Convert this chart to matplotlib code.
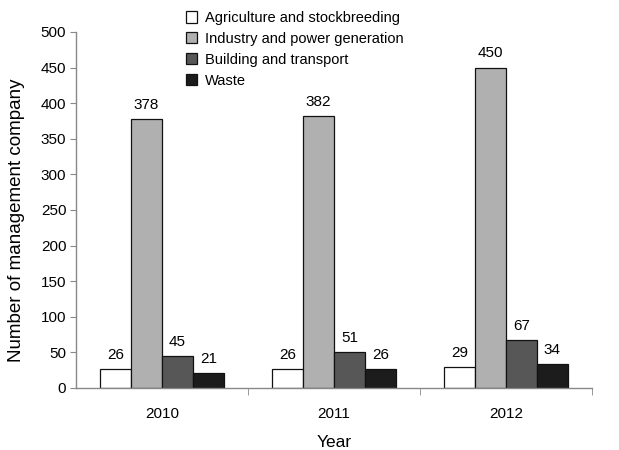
import matplotlib
matplotlib.use("Agg")
import matplotlib.pyplot as plt
import numpy as np

plt.rcParams['font.family'] = ['Liberation Sans', 'DejaVu Sans']

years = ["2010", "2011", "2012"]
series_names = [
    "Agriculture and stockbreeding",
    "Industry and power generation",
    "Building and transport",
    "Waste",
]
agriculture = [26, 26, 29]
industry = [378, 382, 450]
building = [45, 51, 67]
waste = [21, 26, 34]
colors = ["#ffffff", "#b0b0b0", "#575757", "#1c1c1c"]

fig = plt.figure(figsize=(6.19, 4.5), dpi=100)
ax = fig.add_axes([0.1228, 0.1378, 0.8335, 0.7912])

x = np.arange(len(years))
width = 0.18
all_series = [agriculture, industry, building, waste]
for i, (vals, name, c) in enumerate(zip(all_series, series_names, colors)):
    pos = x + (i - 1.5) * width
    bars = ax.bar(pos, vals, width, color=c, edgecolor="#111111", linewidth=0.9, label=name)
    for b, v in zip(bars, vals):
        ax.text(b.get_x() + b.get_width() / 2, v + 10, str(v), ha="center", va="bottom", fontsize=11)

ax.set_xlim(-0.5, 2.5)
ax.set_ylim(0, 500)
ax.set_yticks(np.arange(0, 501, 50))
ax.set_xticks(x)
ax.set_xticklabels(years, fontsize=11)
ax.set_xticks([0.5, 1.5, 2.5], minor=True)
ax.tick_params(axis="x", which="major", length=0, pad=14)
ax.tick_params(axis="x", which="minor", length=5, color="#888888", direction="out")
ax.tick_params(axis="y", labelsize=11, length=4, color="#888888", pad=3)
for s in ["top", "right"]:
    ax.spines[s].set_visible(False)
for s in ["left", "bottom"]:
    ax.spines[s].set_color("#888888")
    ax.spines[s].set_linewidth(1.0)

ax.set_ylabel("Number of management company", fontsize=13.5, va="center")
ax.yaxis.set_label_coords(-0.116, 0.472)
ax.set_xlabel("Year", fontsize=12.5, va="center")
ax.xaxis.set_label_coords(0.5, -0.152)

leg = ax.legend(loc="upper left", bbox_to_anchor=(0.201, 1.075), frameon=False, fontsize=10.5,
                handlelength=0.8, handleheight=0.8, handletextpad=0.5, labelspacing=0.47,
                borderaxespad=0)

fig.savefig("out.png", dpi=100)
